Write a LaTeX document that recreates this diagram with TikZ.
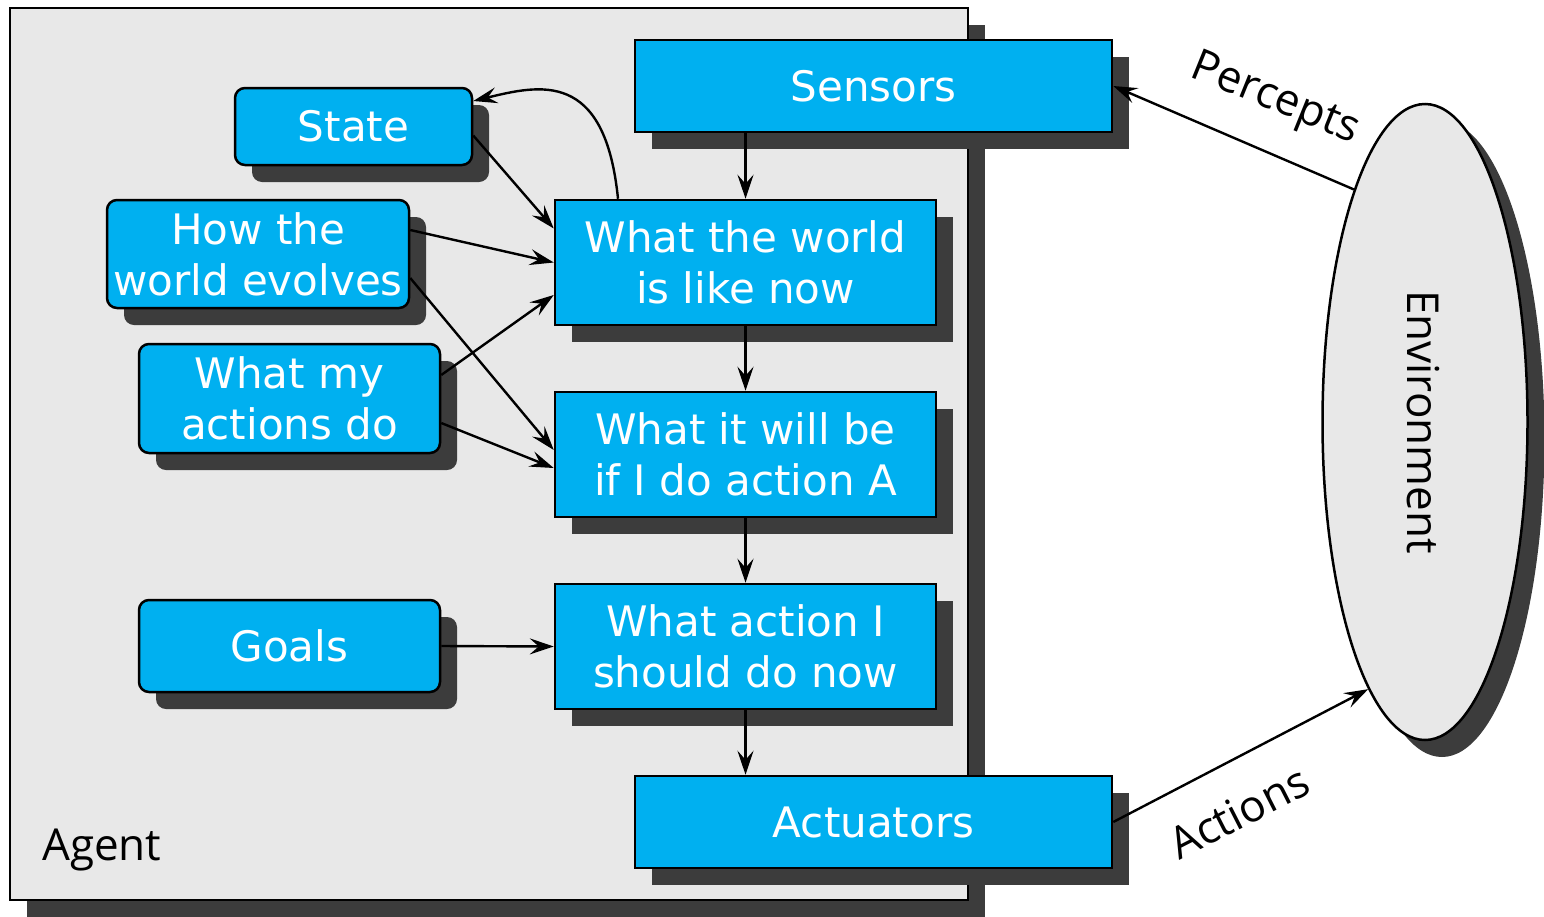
\documentclass[tikz,border=0pt]{standalone}
\usepackage{fontspec}
\setmainfont{Open Sans}
\newfontfamily\boxfont{DejaVu Sans}
\usetikzlibrary{shadows,arrows.meta,shapes.geometric}
\definecolor{boxblue}{RGB}{0,176,240}
\definecolor{shd}{RGB}{60,60,60}
\definecolor{agentgray}{RGB}{232,232,232}
\begin{document}
\begin{tikzpicture}[x=1pt,y=-1pt,
  shad/.style={drop shadow={shadow xshift=17pt, shadow yshift=-17pt, fill=shd, opacity=1}},
  blk/.style={draw=black, line width=2.5pt, fill=boxblue, text=white,
    font=\boxfont\fontsize{42}{51}\selectfont, align=center, inner sep=0pt, shad},
  rbox/.style={blk, rounded corners=10pt},
  arr/.style={line width=2.4pt, -{Stealth[length=24pt,width=16pt,inset=9pt]}},
  lbl/.style={font=\fontsize{44}{52}\selectfont, inner sep=0pt}
]
\useasboundingbox (0,0) rectangle (1544,916);
% Agent container
\node[draw=black, line width=2.5pt, fill=agentgray, minimum width=958pt, minimum height=892pt, inner sep=0pt, shad] (agent) at (489,454) {};
\node[lbl, anchor=base west] (agentlbl) at (42,860) {Agent};
% boxes
\node[blk, minimum width=477pt, minimum height=92pt] (Sensors) at (873.5,86) {Sensors};
\node[rbox, minimum width=237pt, minimum height=77pt] (State) at (353.5,126.5) {State};
\node[rbox, minimum width=302pt, minimum height=108pt] (How) at (258,254) {How the\\world evolves};
\node[rbox, minimum width=301pt, minimum height=109pt] (Mine) at (289.5,398.5) {What my\\actions do};
\node[rbox, minimum width=301pt, minimum height=92pt] (Goals) at (289.5,646) {Goals};
\node[blk, minimum width=381pt, minimum height=125pt] (Now) at (745.5,262.5) {What the world\\is like now};
\node[blk, minimum width=381pt, minimum height=125pt] (Will) at (745.5,454.5) {What it will be\\if I do action A};
\node[blk, minimum width=381pt, minimum height=125pt] (Should) at (745.5,646.5) {What action I\\should do now};
\node[blk, minimum width=477pt, minimum height=92pt] (Actuators) at (873.5,822) {Actuators};
% environment
\node[ellipse, draw=black, line width=2.5pt, fill=agentgray, minimum width=205pt, minimum height=636pt, inner sep=0pt, shad] (Env) at (1425,422) {};
\node[lbl, rotate=-90] (envlbl) at (1423,422) {Environment};
% vertical flow
\draw[arr] (Now.north |- Sensors.south) -- (Now.north);
\draw[arr] (Now.south) -- (Will.north);
\draw[arr] (Will.south) -- (Should.north);
\draw[arr] (Should.south) -- (Should.south |- Actuators.north);
% inputs
\draw[arr] ([yshift=-9pt]State.east) -- ([yshift=34pt]Now.west);
\draw[arr] ([yshift=24pt]How.east) -- (Now.west);
\draw[arr] ([yshift=-24pt]How.east) -- ([yshift=4.5pt]Will.west);
\draw[arr] ([yshift=23.5pt]Mine.east) -- ([yshift=-32.5pt]Now.west);
\draw[arr] ([yshift=-24.5pt]Mine.east) -- ([yshift=-13.5pt]Will.west);
\draw[arr] (Goals.east) -- (Should.west);
% feedback to state
\draw[arr] ([xshift=-127.5pt]Now.north) .. controls +(-13,-130) and +(66,-16) .. ([yshift=25.5pt]State.east);
% environment links
\draw[arr] (Env.107) -- (Sensors.east);
\draw[arr] (Actuators.east) -- (Env.258);
\node[lbl, rotate=-22] (perc) at (1275,100) {Percepts};
\node[lbl, rotate=27] (act) at (1239,812) {Actions};
\end{tikzpicture}
\end{document}
